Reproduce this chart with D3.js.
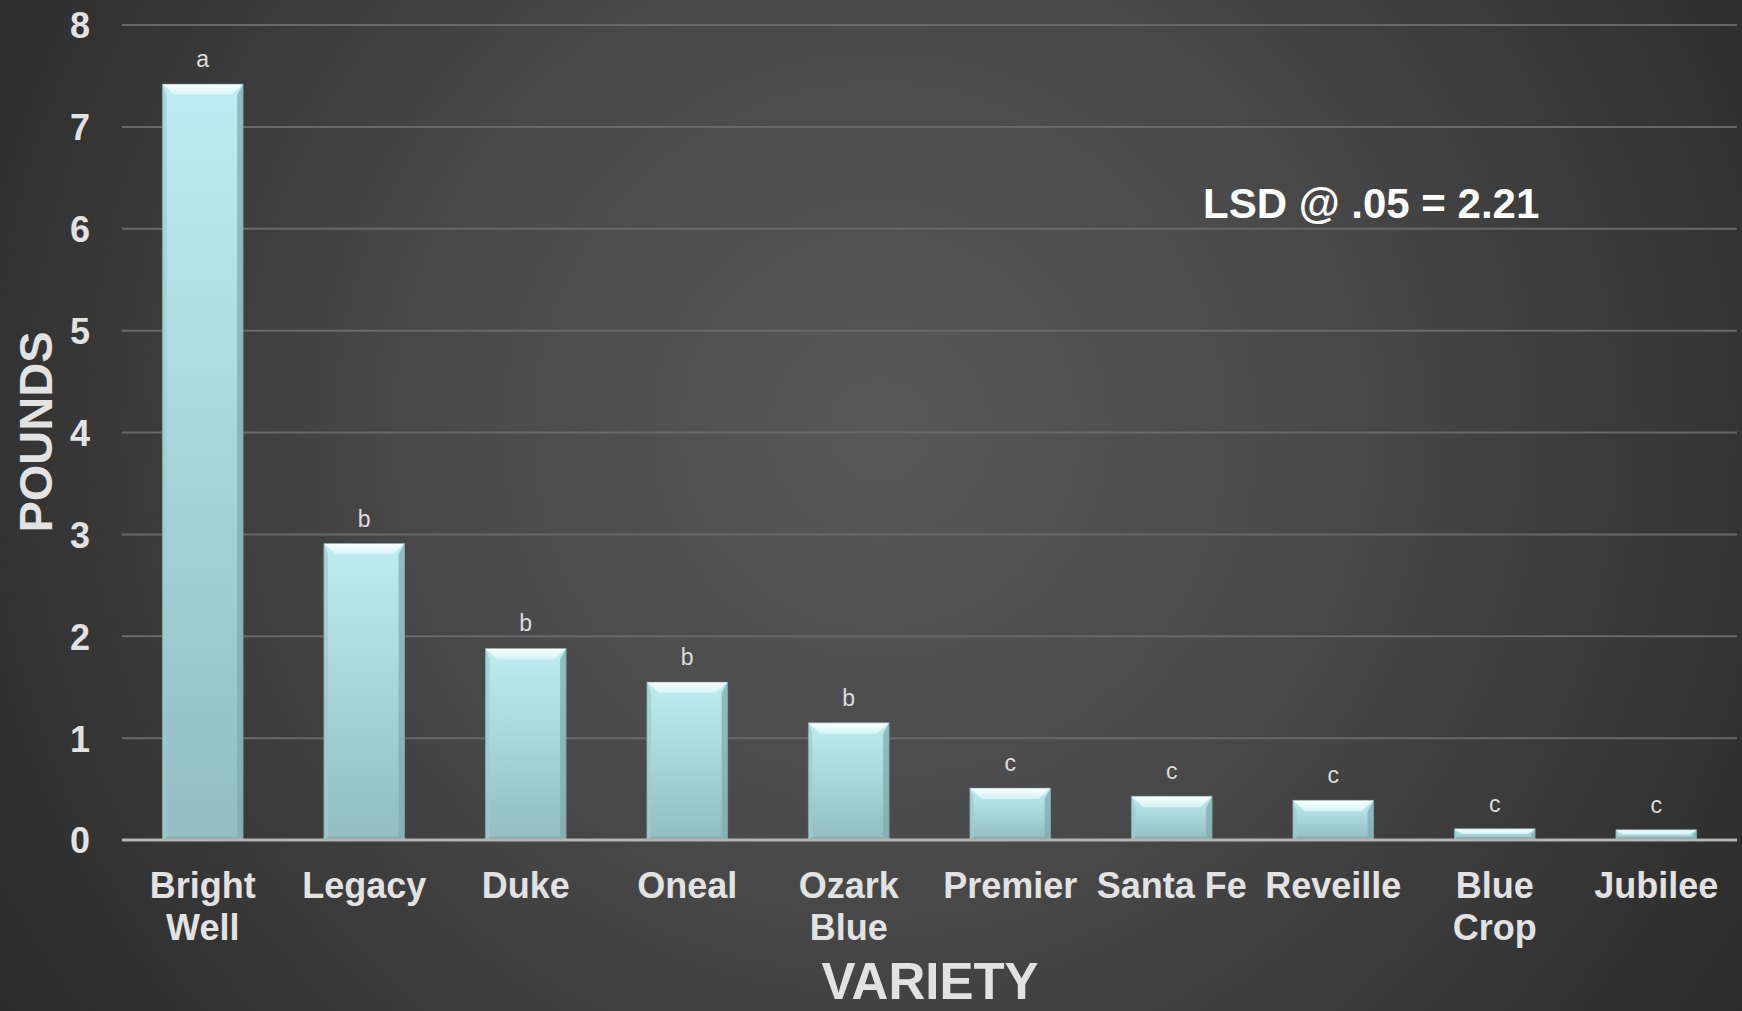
<!DOCTYPE html>
<html>
<head>
<meta charset="utf-8">
<script src="https://cdn.jsdelivr.net/npm/d3@7/dist/d3.min.js"></script>
<style>
  html, body { margin: 0; padding: 0; background: #333; overflow: hidden; }
  svg { display: block; font-family: "Liberation Sans", Arial, sans-serif; }
</style>
</head>
<body>
<svg id="chart" width="1742" height="1011"></svg>
<script>
// ---- data ----
const categories = [["Bright", "Well"], ["Legacy"], ["Duke"], ["Oneal"], ["Ozark", "Blue"], ["Premier"], ["Santa Fe"], ["Reveille"], ["Blue", "Crop"], ["Jubilee"]];
const values = [7.42, 2.91, 1.88, 1.55, 1.15, 0.51, 0.43, 0.39, 0.11, 0.10];
const letters = ["a", "b", "b", "b", "b", "c", "c", "c", "c", "c"];
const yTicks = [0, 1, 2, 3, 4, 5, 6, 7, 8];
const yTitle = "POUNDS";
const xTitle = "VARIETY";
const note = "LSD @ .05 = 2.21";

// ---- layout ----
const W = 1742, H = 1011;
const plot = { left: 122, right: 1737, top: 25, bottom: 840 };
const svg = d3.select("#chart");
const defs = svg.append("defs");

const bg = defs.append("radialGradient").attr("id", "bg")
  .attr("gradientUnits", "userSpaceOnUse")
  .attr("cx", 880).attr("cy", 430).attr("r", 1050);
bg.append("stop").attr("offset", "0%").attr("stop-color", "#585858");
bg.append("stop").attr("offset", "45%").attr("stop-color", "#484848");
bg.append("stop").attr("offset", "100%").attr("stop-color", "#2a2a2a");
svg.append("rect").attr("width", W).attr("height", H).attr("fill", "url(#bg)");

const barGrad = defs.append("linearGradient").attr("id", "barGrad")
  .attr("x1", 0).attr("y1", 0).attr("x2", 0).attr("y2", 1);
barGrad.append("stop").attr("offset", "0%").attr("stop-color", "#bdedf0");
barGrad.append("stop").attr("offset", "100%").attr("stop-color", "#93bdc0");

const topGrad = defs.append("linearGradient").attr("id", "topGrad")
  .attr("x1", 0).attr("y1", 0).attr("x2", 0).attr("y2", 1);
topGrad.append("stop").attr("offset", "0%").attr("stop-color", "#ffffff");
topGrad.append("stop").attr("offset", "100%").attr("stop-color", "#d2f3f5");

const x = d3.scaleBand().domain(d3.range(categories.length))
  .range([plot.left, plot.right]).paddingInner(0.5).paddingOuter(0.25);
const y = d3.scaleLinear().domain([0, 8]).range([plot.bottom, plot.top]);

// gridlines
svg.append("g").selectAll("line").data(yTicks.filter(d => d > 0)).join("line")
  .attr("x1", plot.left).attr("x2", plot.right)
  .attr("y1", d => y(d)).attr("y2", d => y(d))
  .attr("stroke", "#686868").attr("stroke-width", 2);

// y axis tick labels
const yAxis = d3.axisLeft(y).tickValues(yTicks).tickSize(0).tickPadding(0).tickFormat(d3.format("d"));
const gy = svg.append("g").attr("transform", `translate(90,0)`).call(yAxis);
gy.select(".domain").remove();
gy.selectAll("text").attr("fill", "#e2e2e2").attr("font-size", 36).attr("font-weight", "bold")
  .attr("font-family", "Liberation Sans, Arial, sans-serif").attr("dy", "0.36em");

// bars
const bars = svg.append("g").selectAll("g").data(values).join("g");
bars.each(function(v, i) {
  const g = d3.select(this);
  const x0 = x(i), bw = x.bandwidth(), x1 = x0 + bw;
  const yt = y(v), yb = y(0), h = yb - yt;
  const b = Math.min(11, h / 2.2);
  const s = Math.min(6, h / 3);
  g.append("rect").attr("x", x0).attr("y", yt).attr("width", bw).attr("height", h).attr("fill", "url(#barGrad)");
  // right side bevel
  g.append("polygon").attr("points", [[x1, yt], [x1 - s, yt + b], [x1 - s, yb - 3], [x1, yb]].join(" "))
    .attr("fill", "#7fa9ad").attr("opacity", 0.7);
  // left side bevel
  g.append("polygon").attr("points", [[x0, yt], [x0 + s * 0.7, yt + b], [x0 + s * 0.7, yb - 3], [x0, yb]].join(" "))
    .attr("fill", "#9fcacd").attr("opacity", 0.7);
  // bottom bevel
  g.append("polygon").attr("points", [[x0, yb], [x0 + s * 0.7, yb - 3], [x1 - s, yb - 3], [x1, yb]].join(" "))
    .attr("fill", "#7fa5a8").attr("opacity", 0.8);
  // top bevel
  g.append("polygon").attr("points", [[x0, yt], [x1, yt], [x1 - s * 2, yt + b], [x0 + s * 2, yt + b]].join(" "))
    .attr("fill", "url(#topGrad)");
  g.append("rect").attr("x", x0).attr("y", yt).attr("width", bw).attr("height", h)
    .attr("fill", "none").attr("stroke", "#6f9a9e").attr("stroke-width", 1).attr("opacity", 0.6);
});

// letters
svg.append("g").selectAll("text").data(values).join("text")
  .attr("x", (d, i) => x(i) + x.bandwidth() / 2)
  .attr("y", d => y(d) - 17)
  .attr("text-anchor", "middle").attr("fill", "#dcdcdc").attr("font-size", 23)
  .text((d, i) => letters[i]);

// baseline
svg.append("line").attr("x1", plot.left).attr("x2", plot.right)
  .attr("y1", y(0)).attr("y2", y(0)).attr("stroke", "#b4b4b4").attr("stroke-width", 3);

// x category labels
const xl = svg.append("g").selectAll("text").data(categories).join("text")
  .attr("x", (d, i) => x(i) + x.bandwidth() / 2)
  .attr("y", 898)
  .attr("text-anchor", "middle").attr("fill", "#e2e2e2").attr("font-size", 36).attr("font-weight", "bold");
xl.each(function(d) {
  const t = d3.select(this);
  const cx = t.attr("x");
  d.forEach((line, k) => {
    t.append("tspan").attr("x", cx).attr("dy", k === 0 ? 0 : 42).text(line);
  });
});

// axis titles
svg.append("text").attr("transform", `translate(52,432) rotate(-90)`)
  .attr("text-anchor", "middle").attr("fill", "#e2e2e2").attr("font-size", 47).attr("font-weight", "bold")
  .text(yTitle);
svg.append("text").attr("x", 930).attr("y", 999)
  .attr("text-anchor", "middle").attr("fill", "#e2e2e2").attr("font-size", 51).attr("font-weight", "bold")
  .text(xTitle);

// note
svg.append("text").attr("x", 1203).attr("y", 218)
  .attr("fill", "#ffffff").attr("font-size", 42).attr("font-weight", "bold")
  .text(note);
</script>
</body>
</html>
